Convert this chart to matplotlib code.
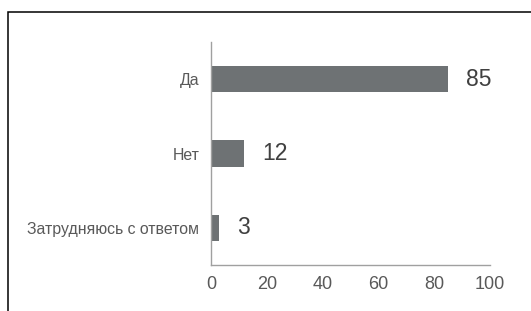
import matplotlib
matplotlib.use("Agg")
import matplotlib.pyplot as plt
from matplotlib.patches import Rectangle

categories = ["Да", "Нет", "Затрудняюсь с ответом"]
values = [85, 12, 3]
xticks = [0, 20, 40, 60, 80, 100]

plt.rcParams['font.family'] = ['Liberation Sans', 'DejaVu Sans']

fig = plt.figure(figsize=(5.31, 3.11), dpi=100)
ax = fig.add_axes([211/531, 46/311, 279/531, 223/311])

ypos = list(range(len(categories)))
ax.barh(ypos, values, height=0.35, color="#6e7274")
ax.set_ylim(len(categories) - 0.5, -0.5)
ax.set_xlim(0, 100)
ax.set_yticks(ypos)
ax.set_yticklabels(categories)
ax.set_xticks(xticks)
ax.set_xticklabels([str(t) for t in xticks])
ax.tick_params(axis='y', length=0, pad=8.5, labelsize=11.4, labelcolor="#595959")
ax.tick_params(axis='x', length=0, pad=8, labelsize=13, labelcolor="#595959")
for s in ['top', 'right']:
    ax.spines[s].set_visible(False)
for s in ['left', 'bottom']:
    ax.spines[s].set_color("#a0a0a0")
    ax.spines[s].set_linewidth(1.0)

for y, v in zip(ypos, values):
    ax.annotate(str(v), xy=(v, y), xytext=(12.5, 0), textcoords="offset points",
                ha="left", va="center", fontsize=16.5, color="#404040")

rect = Rectangle((7.5/531, -0.2), 1.2, 1 - 12/311 + 0.2, transform=fig.transFigure,
                 fill=False, edgecolor="black", linewidth=1.1, clip_on=False)
fig.patches.append(rect)

fig.savefig("out.png", dpi=100)
